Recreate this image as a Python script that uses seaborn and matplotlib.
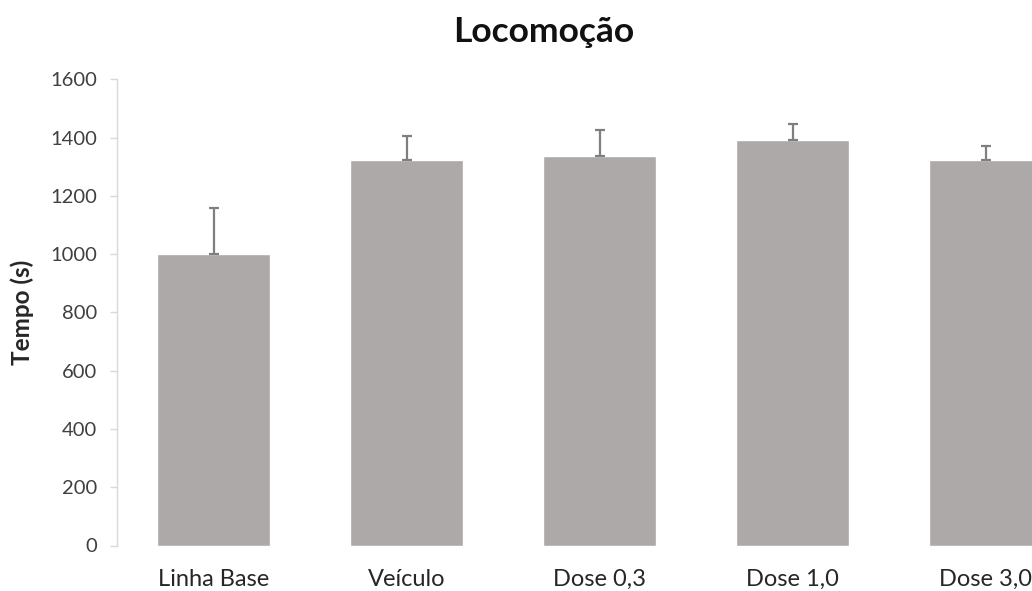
import matplotlib
matplotlib.use("Agg")
import matplotlib.pyplot as plt
import seaborn as sns
import pandas as pd

# Mean locomotion time per group and its upper error (s)
grupos = ["Linha Base", "Veículo", "Dose 0,3", "Dose 1,0", "Dose 3,0"]
tempo_medio = [1000, 1324, 1338, 1391, 1322]
erro = [160, 80, 87, 55, 50]

titulo = "Locomoção"
rotulo_y = "Tempo (s)"
ticks_y = [0, 200, 400, 600, 800, 1000, 1200, 1400, 1600]

sns.set_theme(style="white")
plt.rcParams["font.family"] = ["Lato", "DejaVu Sans"]

W, H = 1032, 591
fig = plt.figure(figsize=(W / 100, H / 100), dpi=100)
ax = fig.add_axes([117 / W, 45.5 / H, (W - 117) / W, (545.5 - 79.3) / H])

df = pd.DataFrame({"grupo": grupos, "tempo": tempo_medio})
sns.barplot(data=df, x="grupo", y="tempo", color="#ADA9A8", saturation=1,
            width=0.585, errorbar=None, ax=ax)

# upper-only whiskers
ax.errorbar(range(len(grupos)), tempo_medio, yerr=[[0] * len(erro), erro],
            fmt="none", ecolor="#7F7F7F", elinewidth=1.6, capsize=3.6,
            capthick=1.6, zorder=1)

ax.set_ylim(0, 1600)
ax.set_xlim(-0.5, (W - 117) / 193 - 0.5)
ax.set_yticks(ticks_y)
ax.set_yticklabels([str(t) for t in ticks_y])

for s in ["top", "right", "bottom"]:
    ax.spines[s].set_visible(False)
ax.spines["left"].set_color("#D9D9D9")
ax.spines["left"].set_linewidth(1.0)

ax.tick_params(axis="y", which="major", left=True, length=5, width=1.0,
               color="#D9D9D9", pad=9.4, labelsize=14.5, labelcolor="#404040")
ax.tick_params(axis="x", bottom=False, pad=11, labelsize=17, labelcolor="#262626")

ax.set_xlabel("")
ax.set_ylabel(rotulo_y, fontsize=17.5, fontweight="bold", color="#262626")
ax.yaxis.set_label_coords(-83 / (W - 117), 0.5)

fig.text(544 / W, 1 - 42 / H, titulo, ha="center", va="baseline",
         fontsize=25.5, fontweight="bold", color="#111111")

fig.savefig("out.png", dpi=100)
